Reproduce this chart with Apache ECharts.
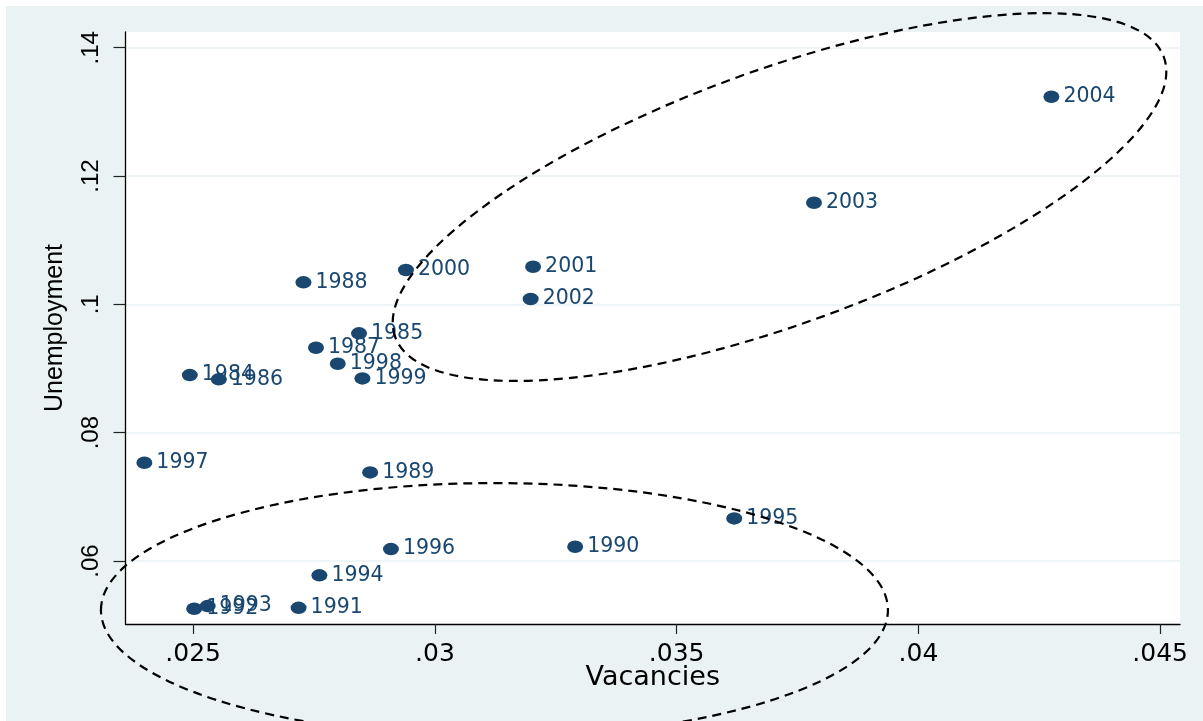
<!DOCTYPE html>
<html>
<head>
<meta charset="utf-8">
<title>Unemployment and vacancies, 1984-2004</title>
<script src="https://cdn.jsdelivr.net/npm/echarts@6/dist/echarts.min.js"></script>
<style>
  html, body { margin: 0; padding: 0; background: #ffffff; }
  #chart { position: absolute; left: 6px; top: 6px; width: 1197px; height: 715px; }
</style>
</head>
<body>
<div id="chart"></div>
<script>
// Yearly observations: vacancy rate (x) against unemployment rate (y)
const years = [1984, 1985, 1986, 1987, 1988, 1989, 1990, 1991, 1992, 1993, 1994,
               1995, 1996, 1997, 1998, 1999, 2000, 2001, 2002, 2003, 2004];
const vacancies = [0.02493, 0.02843, 0.02553, 0.02754, 0.02728, 0.02866, 0.03290,
                   0.02718, 0.02502, 0.02530, 0.02761, 0.03619, 0.02909, 0.02399,
                   0.02799, 0.02850, 0.02940, 0.03203, 0.03198, 0.03784, 0.04275];
const unemployment = [0.08898, 0.09548, 0.08831, 0.09324, 0.10343, 0.07381, 0.06222,
                      0.05270, 0.05255, 0.05297, 0.05776, 0.06664, 0.06186, 0.07531,
                      0.09074, 0.08846, 0.10535, 0.10586, 0.10083, 0.11584, 0.13236];

// Axis ticks and their printed labels
const xTicks = [0.025, 0.03, 0.035, 0.04, 0.045];
const xTickLabels = ['.025', '.03', '.035', '.04', '.045'];
const yTicks = [0.06, 0.08, 0.1, 0.12, 0.14];
const yTickLabels = ['.06', '.08', '.1', '.12', '.14'];

// Centres of the two dashed groupings, in data units
const groupCentreX = [0.037127, 0.031231];
const groupCentreY = [0.116726, 0.05235];

// Outline geometry of each grouping (pixels / degrees)
const groupShape = [
  { rx: 409, ry: 127, angle: 20 },
  { rx: 393.5, ry: 127, angle: 0 }
];

const navy = '#1a476f';
const panel = '#eaf2f3';

function labelFor(ticks, labels) {
  return function (v) {
    for (let i = 0; i < ticks.length; i++) {
      if (Math.abs(ticks[i] - v) < 1e-9) return labels[i];
    }
    return '';
  };
}

const points = years.map((y, i) => [vacancies[i], unemployment[i], y]);
const groups = groupCentreX.map((x, i) => [x, groupCentreY[i]]);

const chart = echarts.init(document.getElementById('chart'), null, { renderer: 'canvas' });

chart.setOption({
  backgroundColor: panel,
  animation: false,
  grid: {
    left: 119.5, right: 23, top: 26, bottom: 97,
    show: true, backgroundColor: '#ffffff', borderWidth: 0
  },
  xAxis: {
    type: 'value',
    min: 0.0236, max: 0.04541,
    name: 'Vacancies',
    nameLocation: 'middle',
    nameGap: 40,
    nameMoveOverlap: false,
    nameTextStyle: { fontFamily: 'DejaVu Sans', fontSize: 27, color: '#000' },
    axisLine: { show: true, onZero: false, lineStyle: { color: '#000', width: 1.3 } },
    axisTick: { show: true, length: 10, customValues: xTicks, lineStyle: { color: '#222', width: 1.2 } },
    axisLabel: {
      customValues: xTicks, formatter: labelFor(xTicks, xTickLabels),
      margin: 18, fontFamily: 'DejaVu Sans', fontSize: 25, color: '#000'
    },
    splitLine: { show: false }
  },
  yAxis: {
    type: 'value',
    min: 0.05018, max: 0.14245,
    name: 'Unemployment',
    nameLocation: 'middle',
    nameGap: 58,
    nameMoveOverlap: false,
    nameRotate: 90,
    nameTextStyle: { fontFamily: 'Liberation Sans', fontSize: 25, color: '#000' },
    axisLine: { show: true, onZero: false, lineStyle: { color: '#000', width: 1.3 } },
    axisTick: { show: true, length: 12, customValues: yTicks, lineStyle: { color: '#222', width: 1.2 } },
    axisLabel: {
      customValues: yTicks, formatter: labelFor(yTicks, yTickLabels),
      rotate: 90, margin: 22, fontFamily: 'Liberation Sans', fontSize: 24, color: '#000'
    },
    splitLine: { show: true, lineStyle: { color: panel, width: 1.6 } }
  },
  series: [
    {
      type: 'scatter',
      data: points,
      symbol: 'circle',
      symbolSize: [16, 12.5],
      itemStyle: { color: navy, opacity: 1 },
      label: {
        show: true,
        position: 'right',
        distance: 4,
        offset: [0, 1.5],
        formatter: p => String(p.value[2]),
        fontFamily: 'DejaVu Sans',
        fontSize: 20.5,
        color: navy
      },
      labelLayout: { hideOverlap: false },
      z: 2
    },
    {
      type: 'custom',
      data: groups,
      clip: false,
      silent: true,
      z: 5,
      renderItem: function (params, api) {
        const c = api.coord([api.value(0), api.value(1)]);
        const g = groupShape[params.dataIndex];
        return {
          type: 'ellipse',
          x: c[0],
          y: c[1],
          rotation: g.angle * Math.PI / 180,
          shape: { cx: 0, cy: 0, rx: g.rx, ry: g.ry },
          style: { fill: null, stroke: '#000', lineWidth: 2.2, lineDash: [9, 6] }
        };
      }
    }
  ]
});
</script>
</body>
</html>
